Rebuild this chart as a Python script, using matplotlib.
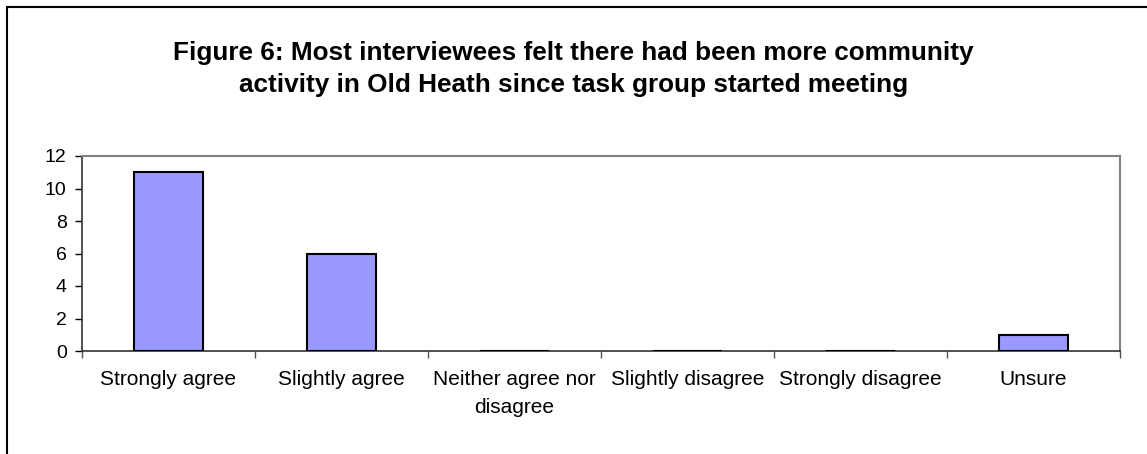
import matplotlib.pyplot as plt
import numpy as np
from matplotlib.patches import Rectangle

plt.rcParams['font.family'] = ['Liberation Sans', 'DejaVu Sans']

categories = ['Strongly agree', 'Slightly agree', 'Neither agree nor\ndisagree',
              'Slightly disagree', 'Strongly disagree', 'Unsure']
counts = [11, 6, 0, 0, 0, 1]

fig = plt.figure(figsize=(11.47, 4.54), dpi=100)
ax = fig.add_axes([82 / 1147, 1 - 351 / 454, (1120 - 82) / 1147, (351 - 156) / 454])

x = np.arange(len(categories))
ax.bar(x, counts, width=0.4, color='#9999FF', edgecolor='black', linewidth=1.5, zorder=3)

ax.set_xlim(-0.5, len(categories) - 0.5)
ax.set_ylim(0, 12)
ax.set_yticks(np.arange(0, 13, 2))
ax.tick_params(axis='y', labelsize=14, length=5, width=1, colors='black', pad=6)

# category boundary ticks on x, labels at centres
ax.set_xticks(np.arange(-0.5, len(categories)), minor=False)
ax.set_xticklabels([])
ax.set_xticks(x, minor=True)
ax.set_xticklabels(categories, minor=True, fontsize=15, va='top', linespacing=1.55)
ax.tick_params(axis='x', which='major', length=5, width=1, color='#555555')
ax.tick_params(axis='x', which='minor', length=0, pad=14)

for side in ['top', 'right']:
    ax.spines[side].set_color('#808080')
    ax.spines[side].set_linewidth(1.5)
ax.spines['left'].set_color('#333333')
ax.spines['bottom'].set_color('#333333')
ax.spines['left'].set_linewidth(1.2)
ax.spines['bottom'].set_linewidth(1.2)

fig.text(0.5, 1 - 69 / 454, 'Figure 6: Most interviewees felt there had been more community\n'
         'activity in Old Heath since task group started meeting',
         ha='center', va='center', fontsize=18.8, fontweight='bold', linespacing=1.37)

# outer chart border
fig.patches.append(Rectangle((7 / 1147, -0.1), 1.2, 1 - 7 / 454 + 0.1,
                             transform=fig.transFigure, fill=False,
                             edgecolor='black', linewidth=1.5))

fig.savefig('out.png', dpi=100)
